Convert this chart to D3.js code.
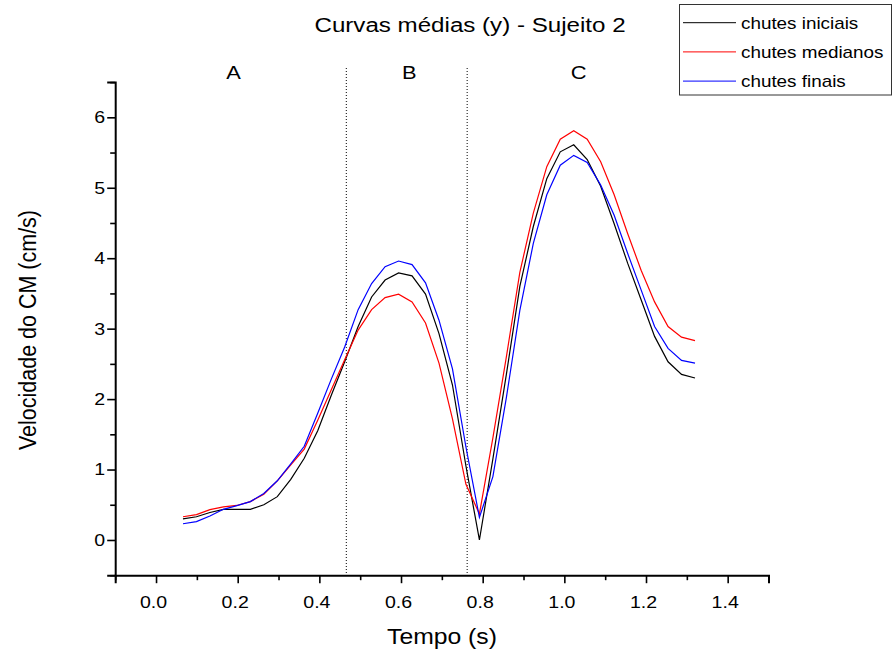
<!DOCTYPE html>
<html>
<head>
<meta charset="utf-8">
<script src="https://cdn.jsdelivr.net/npm/d3@7"></script>
<style>
  body { margin: 0; background: #fff; }
  svg text { font-family: "Liberation Sans", Arial, sans-serif; fill: #000; }
</style>
</head>
<body>
<svg id="chart" width="895" height="655" viewBox="0 0 895 655"></svg>
<script>
// time of each sample (s)
const tempo = [0.066, 0.099, 0.132, 0.165, 0.198, 0.231, 0.264, 0.297, 0.33, 0.363,
  0.396, 0.429, 0.462, 0.495, 0.528, 0.561, 0.594, 0.627, 0.66, 0.693,
  0.726, 0.759, 0.792, 0.825, 0.858, 0.891, 0.924, 0.957, 0.99, 1.023,
  1.056, 1.089, 1.122, 1.155, 1.188, 1.221, 1.254, 1.287, 1.32];

// velocity of the CM (cm/s)
const chutesIniciais = [0.30, 0.33, 0.39, 0.435, 0.435, 0.435, 0.50, 0.615, 0.86, 1.16,
  1.55, 2.05, 2.53, 3.03, 3.45, 3.69, 3.79, 3.75, 3.49, 2.93,
  2.20, 1.05, 0.0, 1.15, 2.35, 3.60, 4.45, 5.13, 5.51, 5.61,
  5.40, 5.02, 4.49, 3.93, 3.41, 2.89, 2.53, 2.35, 2.30];
const chutesMedianos = [0.33, 0.36, 0.43, 0.47, 0.49, 0.545, 0.65, 0.84, 1.065, 1.29,
  1.70, 2.13, 2.56, 2.98, 3.27, 3.44, 3.49, 3.38, 3.08, 2.51,
  1.72, 0.79, 0.37, 1.45, 2.60, 3.80, 4.64, 5.30, 5.69, 5.81,
  5.69, 5.37, 4.90, 4.35, 3.83, 3.38, 3.03, 2.88, 2.83];
const chutesFinais = [0.23, 0.26, 0.34, 0.435, 0.487, 0.545, 0.66, 0.84, 1.08, 1.33,
  1.80, 2.28, 2.74, 3.27, 3.64, 3.88, 3.96, 3.91, 3.65, 3.12,
  2.43, 1.32, 0.32, 0.90, 2.02, 3.26, 4.21, 4.90, 5.32, 5.46,
  5.36, 5.04, 4.61, 4.07, 3.55, 3.03, 2.72, 2.55, 2.51];

const seriesNames = ["chutes iniciais", "chutes medianos", "chutes finais"];
const seriesColors = ["#000000", "#ff0000", "#0000ff"];

const xTicks = [0.0, 0.2, 0.4, 0.6, 0.8, 1.0, 1.2, 1.4];
const xMinorTicks = [-0.1, 0.1, 0.3, 0.5, 0.7, 0.9, 1.1, 1.3, 1.5];
const yTicks = [0, 1, 2, 3, 4, 5, 6];
const yMinorTicks = [-0.5, 0.5, 1.5, 2.5, 3.5, 4.5, 5.5, 6.5];

// phase limits and names
const phaseLimits = [0.466, 0.762];
const phaseNames = ["A", "B", "C"];
const phaseCenters = [0.19, 0.62, 1.035];

// the source picture is a bit wider than tall, text included
const SX = 1.15;

function whenDocumentLoaded(action) {
  if (document.readyState === "loading") {
    document.addEventListener("DOMContentLoaded", action);
  } else {
    action();
  }
}

// horizontal text, stretched like in the original
function addText(parent, x, y, size, label, anchor) {
  return parent.append("text")
    .attr("transform", `translate(${x},${y}) scale(${SX},1)`)
    .attr("text-anchor", anchor || "middle")
    .style("font-size", size + "px")
    .text(label);
}

function drawChart() {
  const svg = d3.select("#chart");

  const x_scale = d3.scaleLinear().domain([-0.1, 1.5]).range([115.2, 768.5]);
  const y_scale = d3.scaleLinear().domain([-0.5, 6.5]).range([575.2, 82.1]);

  // title
  addText(svg, 470, 32, 21, "Curvas médias (y) - Sujeito 2");

  // phase separators (dotted)
  svg.selectAll("line.phase")
    .data(phaseLimits)
    .enter().append("line")
    .attr("class", "phase")
    .attr("x1", d => x_scale(d)).attr("x2", d => x_scale(d))
    .attr("y1", 68).attr("y2", y_scale(-0.5))
    .attr("stroke", "#000").attr("stroke-width", 1)
    .attr("stroke-dasharray", "1,2");

  phaseNames.forEach((p, i) => {
    addText(svg, x_scale(phaseCenters[i]), 79, 19, p);
  });

  // curves
  const all = [chutesIniciais, chutesMedianos, chutesFinais];
  const line = d3.line()
    .x((d, i) => x_scale(tempo[i]))
    .y(d => y_scale(d));

  svg.selectAll("path.curve")
    .data(all)
    .enter().append("path")
    .attr("class", "curve")
    .attr("d", d => line(d))
    .attr("fill", "none")
    .attr("stroke", (d, i) => seriesColors[i])
    .attr("stroke-width", 1.2);

  // x axis
  const xAxis = svg.append("g")
    .attr("transform", `translate(0,${y_scale(-0.5)})`)
    .call(d3.axisBottom(x_scale).tickValues(xTicks).tickSize(8).tickPadding(13)
      .tickFormat(d3.format(".1f")));
  xAxis.selectAll(".tick text").attr("transform", `translate(-3,0) scale(${SX},1)`);
  svg.append("g")
    .attr("transform", `translate(0,${y_scale(-0.5)})`)
    .call(d3.axisBottom(x_scale).tickValues(xMinorTicks).tickSize(5).tickFormat(""))
    .select(".domain").remove();

  // y axis
  const yAxis = svg.append("g")
    .attr("transform", `translate(${x_scale(-0.1)},0)`)
    .call(d3.axisLeft(y_scale).tickValues(yTicks).tickSize(8).tickPadding(5)
      .tickFormat(d3.format("d")));
  yAxis.selectAll(".tick text")
    .attr("x", null)
    .attr("transform", `translate(-10,0) scale(${SX},1)`);
  svg.append("g")
    .attr("transform", `translate(${x_scale(-0.1)},0)`)
    .call(d3.axisLeft(y_scale).tickValues(yMinorTicks).tickSize(5).tickFormat(""))
    .select(".domain").remove();

  svg.selectAll(".domain").attr("stroke-width", 2).attr("stroke", "#000");
  svg.selectAll(".tick line").attr("stroke-width", 1.6).attr("stroke", "#000");
  svg.selectAll(".tick text")
    .style("font-size", "17px")
    .style("font-family", "'Liberation Sans', Arial, sans-serif");

  // axis titles
  addText(svg, 442, 644, 21.5, "Tempo (s)");

  svg.append("text")
    .attr("transform", `translate(36,330) rotate(-90) scale(1,${SX})`)
    .attr("text-anchor", "middle")
    .style("font-size", "21.5px")
    .text("Velocidade do CM (cm/s)");

  // legend
  const legend = svg.append("g");
  legend.append("rect")
    .attr("x", 679.5).attr("y", 4.5)
    .attr("width", 212).attr("height", 90.5)
    .attr("fill", "#fff").attr("stroke", "#333").attr("stroke-width", 1);

  seriesNames.forEach((name, i) => {
    const cy = 22.7 + i * 29.2;
    legend.append("line")
      .attr("x1", 683).attr("x2", 736)
      .attr("y1", cy).attr("y2", cy)
      .attr("stroke", seriesColors[i])
      .attr("stroke-width", 1);
    addText(legend, 741, cy + 6, 16.4, name, "start");
  });
}

whenDocumentLoaded(() => {
  drawChart();
});
</script>
</body>
</html>
